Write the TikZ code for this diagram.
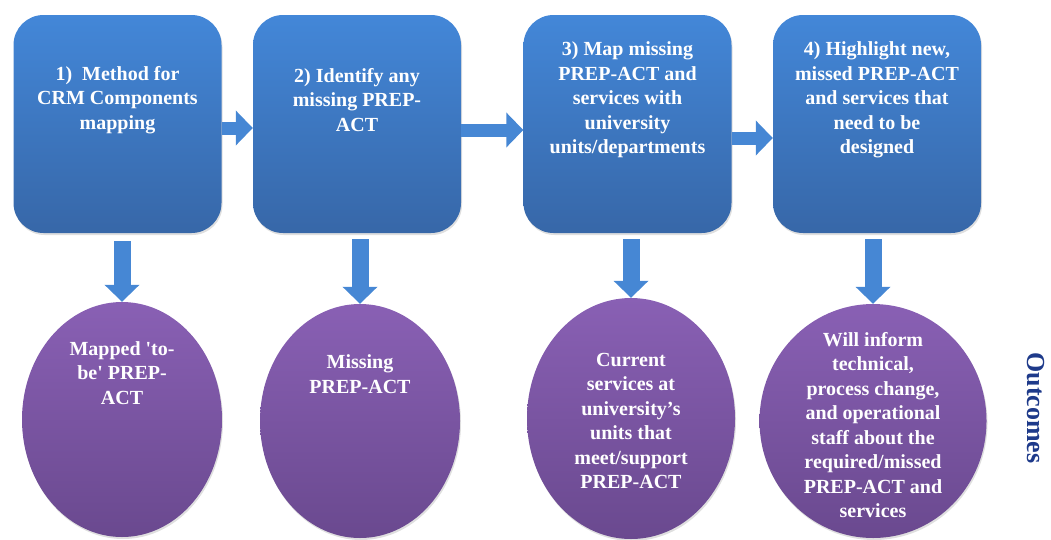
\documentclass[tikz,border=0pt]{standalone}
\usepackage{fontspec}
\setmainfont{Liberation Serif}
\usetikzlibrary{shapes,arrows.meta,shadows}

\definecolor{boxtop}{RGB}{67,135,216}
\definecolor{boxbot}{RGB}{55,103,168}
\definecolor{ovaltop}{RGB}{137,96,180}
\definecolor{ovalbot}{RGB}{106,73,143}
\definecolor{arrowblue}{RGB}{70,135,212}
\definecolor{outblue}{RGB}{30,58,138}

\begin{document}
\begin{tikzpicture}[x=1pt,y=-1pt]
	\tikzset{align=center,font=\fontsize{20}{24.5}\selectfont\bfseries}
	
	\tikzset{stepbox/.style = {rectangle,rounded corners=30pt,minimum width=208pt,minimum height=218pt,
			top color=boxtop,bottom color=boxbot,drop shadow={opacity=0.25,shadow xshift=1pt,shadow yshift=-2pt}}}
	
	\tikzset{oval/.style = {ellipse,inner sep=0pt,top color=ovaltop,bottom color=ovalbot,
			drop shadow={opacity=0.25,shadow xshift=1pt,shadow yshift=-2pt}}}
	
	\tikzset{txt/.style = {text=white}}
	
	\tikzset{flow/.style = {draw=arrowblue,line width=13pt,-{Triangle[length=17pt,width=34pt]}}}
	
	\tikzset{drop/.style = {draw=arrowblue,line width=17pt,-{Triangle[length=17pt,width=34pt]}}}
	
	\useasboundingbox (0,0) rectangle (1051,539);
	
	% steps
	
	\node[stepbox] (b1) at (117.5,124) {};
	
	\node[stepbox] (b2) at (357,124) {};
	
	\node[stepbox] (b3) at (627.5,124) {};
	
	\node[stepbox] (b4) at (877,124) {};
	
	\node[txt] (t1) at (117.5,100) {1)~~Method for\\CRM Components\\mapping};
	
	\node[txt] (t2) at (357,100) {2) Identify any\\missing PREP-\\ACT};
	
	\node[txt] (t3) at (627.5,100) {3) Map missing\\PREP-ACT and\\services with\\university\\units/departments};
	
	\node[txt] (t4) at (877,100) {4) Highlight new,\\missed PREP-ACT\\and services that\\need to be\\designed};
	
	% outcomes
	
	\node[oval,minimum width=200pt,minimum height=235pt] (e1) at (122,419.5) {};
	
	\node[oval,minimum width=200pt,minimum height=234pt] (e2) at (360,421) {};
	
	\node[oval,minimum width=208pt,minimum height=241pt] (e3) at (631,418.5) {};
	
	\node[oval,minimum width=227pt,minimum height=234pt] (e4) at (873,421) {};
	
	\node[txt] (o1) at (122,373) {Mapped \textquotesingle to-\\be\textquotesingle\ PREP-\\ACT};
	
	\node[txt] (o2) at (360,374) {Missing\\PREP-ACT};
	
	\node[txt] (o3) at (631,421) {Current\\services at\\university’s\\units that\\meet/support\\PREP-ACT};
	
	\node[txt] (o4) at (873,425) {Will inform\\technical,\\process change,\\and operational\\staff about the\\required/missed\\PREP-ACT and\\services};
	
	\node[text=outblue,rotate=-90,font=\fontsize{26}{30}\selectfont\bfseries] (out) at (1036,408) {Outcomes};
	
	% arrows
	
	\draw[flow] ([yshift=-4pt]b1.east) -- ([yshift=-4pt]b2.west);
	\draw[flow] ([yshift=-6pt]b2.east) -- ([yshift=-6pt]b3.west);
	\draw[flow] ([yshift=-14pt]b3.east) -- ([yshift=-14pt]b4.west);
	
	\draw[drop] ([yshift=-8pt]b1.south -| e1.north) -- (e1.north);
	\draw[drop] ([yshift=-6pt]b2.south -| e2.north) -- (e2.north);
	\draw[drop] ([yshift=-6pt]b3.south -| e3.north) -- (e3.north);
	\draw[drop] ([yshift=-6pt]b4.south -| e4.north) -- (e4.north);
\end{tikzpicture}
\end{document}
